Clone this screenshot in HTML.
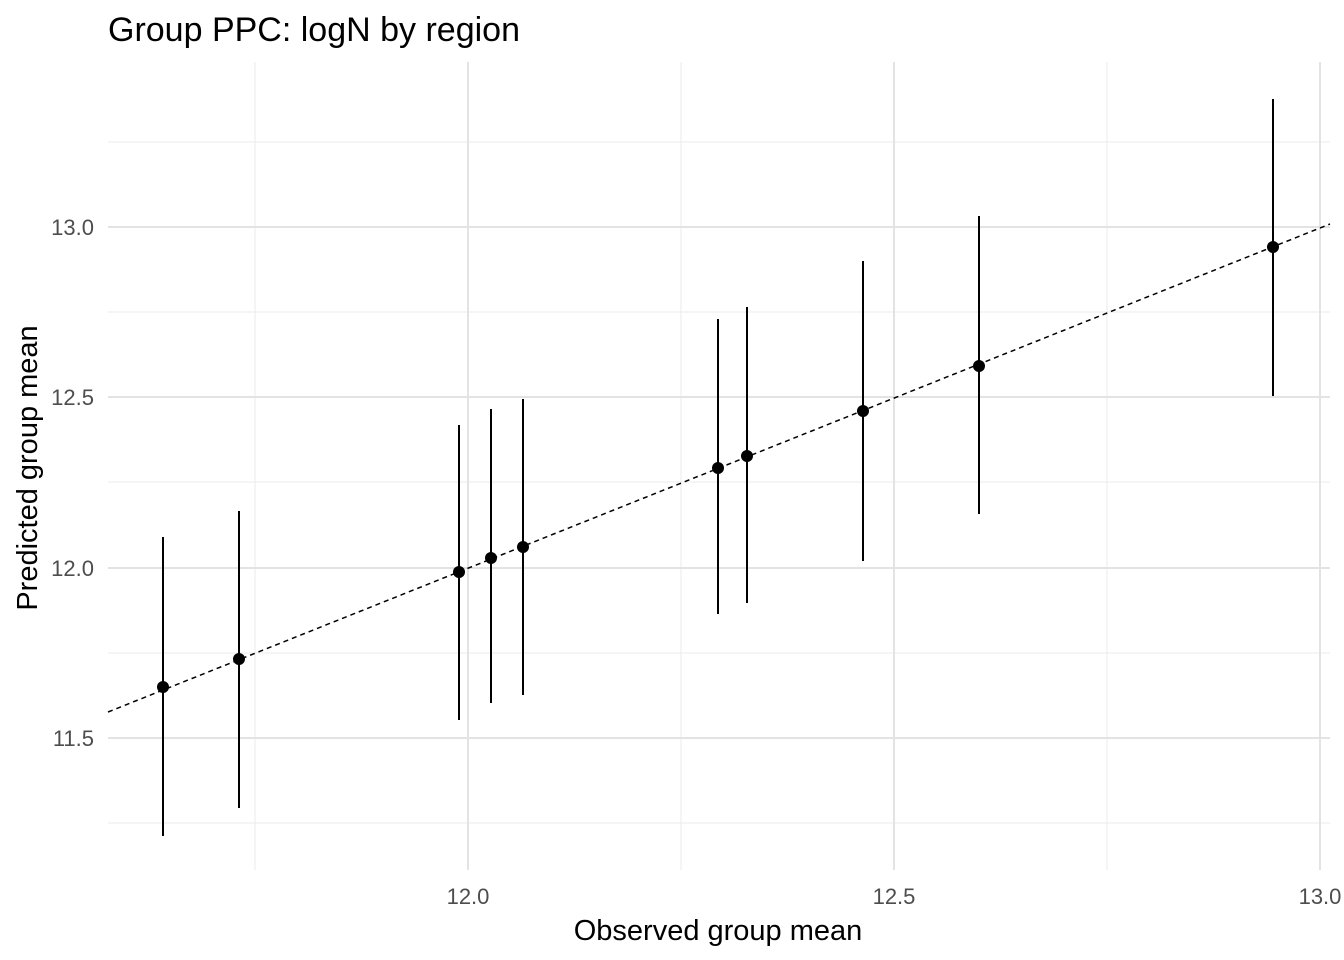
<!DOCTYPE html>
<html><head><meta charset="utf-8"><style>
html,body{margin:0;padding:0;background:#fff;}
svg{display:block;font-family:"Liberation Sans",Arial,sans-serif;}
</style></head><body>
<svg width="1344" height="960" viewBox="0 0 1344 960" xmlns="http://www.w3.org/2000/svg">
<rect width="1344" height="960" fill="#fff"/>
<g stroke="#ebebeb" stroke-width="1">
<line x1="255" y1="62" x2="255" y2="870"/>
<line x1="681" y1="62" x2="681" y2="870"/>
<line x1="1107" y1="62" x2="1107" y2="870"/>
<line x1="108" y1="142" x2="1330" y2="142"/>
<line x1="108" y1="312" x2="1330" y2="312"/>
<line x1="108" y1="482" x2="1330" y2="482"/>
<line x1="108" y1="653" x2="1330" y2="653"/>
<line x1="108" y1="823" x2="1330" y2="823"/>
</g>
<g stroke="#e3e3e3" stroke-width="2">
<line x1="468" y1="62" x2="468" y2="870"/>
<line x1="894" y1="62" x2="894" y2="870"/>
<line x1="1320" y1="62" x2="1320" y2="870"/>
<line x1="108" y1="227" x2="1330" y2="227"/>
<line x1="108" y1="397" x2="1330" y2="397"/>
<line x1="108" y1="568" x2="1330" y2="568"/>
<line x1="108" y1="738" x2="1330" y2="738"/>
</g>
<line x1="108" y1="712" x2="1330" y2="224" stroke="#000" stroke-width="1.5" stroke-dasharray="5,4"/>
<g stroke="#000" stroke-width="2">
<line x1="163" y1="537" x2="163" y2="836"/>
<line x1="239" y1="511" x2="239" y2="808"/>
<line x1="459" y1="425" x2="459" y2="720"/>
<line x1="491" y1="409" x2="491" y2="703"/>
<line x1="523" y1="399" x2="523" y2="695"/>
<line x1="718" y1="319" x2="718" y2="614"/>
<line x1="747" y1="307" x2="747" y2="603"/>
<line x1="863" y1="261" x2="863" y2="561"/>
<line x1="979" y1="216" x2="979" y2="514"/>
<line x1="1273" y1="99" x2="1273" y2="396"/>
</g>
<g fill="#000">
<circle cx="163" cy="687" r="6"/>
<circle cx="239" cy="659" r="6"/>
<circle cx="459" cy="572" r="6"/>
<circle cx="491" cy="558" r="6"/>
<circle cx="523" cy="547" r="6"/>
<circle cx="718" cy="468" r="6"/>
<circle cx="747" cy="456" r="6"/>
<circle cx="863" cy="411" r="6"/>
<circle cx="979" cy="366" r="6"/>
<circle cx="1273" cy="247" r="6"/>
</g>
<g fill="#4d4d4d" font-size="22" text-anchor="end">
<text x="94" y="235">13.0</text>
<text x="94" y="405">12.5</text>
<text x="94" y="576">12.0</text>
<text x="94" y="746">11.5</text>
</g>
<g fill="#4d4d4d" font-size="22" text-anchor="middle">
<text x="468" y="904">12.0</text>
<text x="894" y="904">12.5</text>
<text x="1320" y="904">13.0</text>
</g>
<text x="718" y="940" font-size="29" text-anchor="middle" fill="#000">Observed group mean</text>
<text transform="translate(37,468) rotate(-90)" font-size="29" text-anchor="middle" fill="#000">Predicted group mean</text>
<text x="108" y="41" font-size="34" fill="#000">Group PPC: logN by region</text>
</svg>
</body></html>
